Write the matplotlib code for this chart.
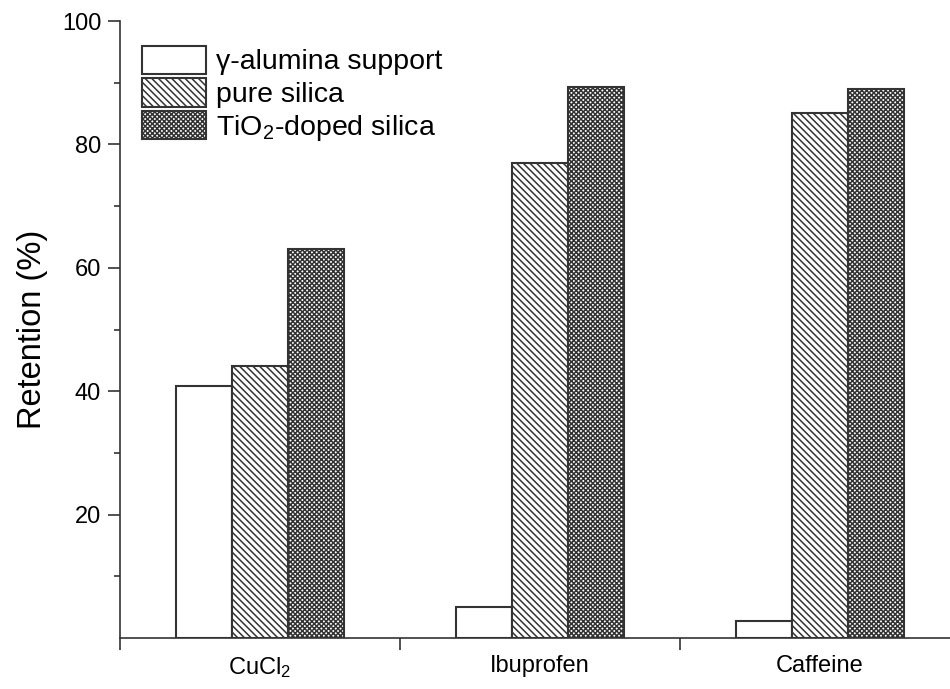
import numpy as np
import matplotlib
matplotlib.use("Agg")
import matplotlib.pyplot as plt

# ---------------- data ----------------
categories = ["CuCl$_2$", "Ibuprofen", "Caffeine"]
series_names = ["\u03b3-alumina support", "pure silica", "TiO$_2$-doped silica"]
alumina = [40.8, 5.0, 2.8]
pure_silica = [44.1, 77.0, 85.1]
tio2_silica = [63.0, 89.3, 89.0]

# ---------------- style ----------------
plt.rcParams["font.family"] = ["Liberation Sans", "DejaVu Sans"]
plt.rcParams["mathtext.fontset"] = "custom"
plt.rcParams["mathtext.rm"] = "Liberation Sans"
plt.rcParams["mathtext.it"] = "Liberation Sans:italic"
plt.rcParams["hatch.linewidth"] = 1.1
plt.rcParams["hatch.color"] = "#333333"

EDGE = "#333333"
WIDTH = 0.2

fig = plt.figure(figsize=(9.5, 6.89), dpi=100)
ax = fig.add_axes([0.1263, 0.074, 0.8737, 0.8955])

x = np.arange(1, len(categories) + 1)
styles = [("white", ""), ("white", "\\\\\\\\\\"), ("white", "xxxxxxx")]
values = [alumina, pure_silica, tio2_silica]

for i, (vals, name, (fc, hatch)) in enumerate(zip(values, series_names, styles)):
    ax.bar(x + (i - 1) * WIDTH, vals, width=WIDTH, facecolor=fc,
           edgecolor=EDGE, hatch=hatch, linewidth=1.5, label=name)

# axes limits
ax.set_ylim(0, 100)
ax.set_xlim(0.5, 0.5 + 830 / 280)

# y ticks
ax.set_yticks([20, 40, 60, 80, 100])
ax.set_yticks([10, 30, 50, 70, 90], minor=True)
ax.tick_params(axis="y", which="major", direction="out", length=8.5, width=1.2,
               labelsize=17, pad=5, color="#333333")
ax.tick_params(axis="y", which="minor", direction="out", length=4.5, width=1.2,
               color="#333333")

# x ticks: marks at group boundaries, labels at centres
ax.set_xticks([0.5, 1.5, 2.5])
ax.set_xticklabels([])
ax.set_xticks(x, minor=True)
ax.set_xticklabels(categories, minor=True)
ax.tick_params(axis="x", which="major", direction="out", length=8.5, width=1.2,
               color="#333333")
ax.tick_params(axis="x", which="minor", length=0, labelsize=17, pad=12)

for side in ["top", "right"]:
    ax.spines[side].set_visible(False)
for side in ["left", "bottom"]:
    ax.spines[side].set_linewidth(1.2)
    ax.spines[side].set_color("#333333")

ax.set_ylabel("Retention (%)", fontsize=23.5, labelpad=10)

ax.legend(loc="upper left", frameon=False, fontsize=20.5,
          bbox_to_anchor=(0.026, 0.96), handlelength=2.25, handleheight=1.15,
          labelspacing=0.1, handletextpad=0.35, borderaxespad=0, borderpad=0)

fig.savefig("out.png", dpi=100)
